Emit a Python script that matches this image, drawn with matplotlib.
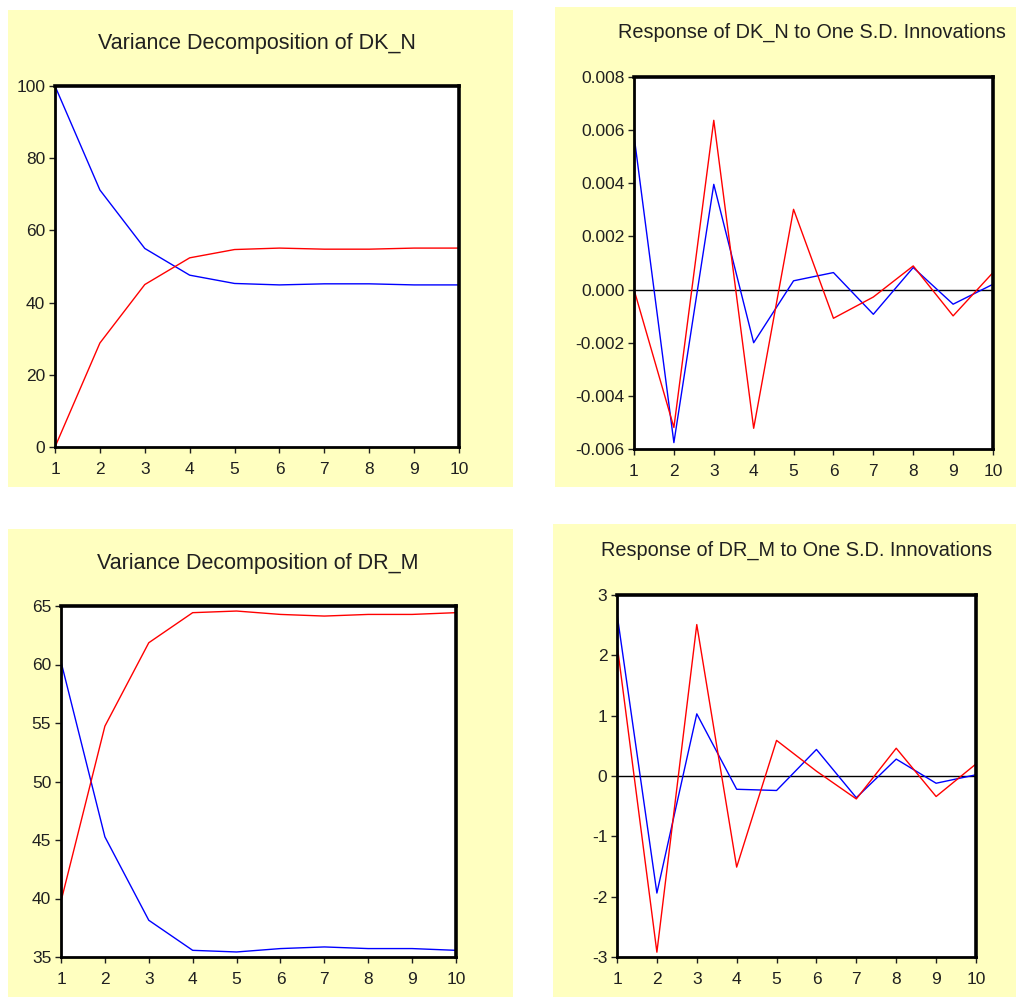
import matplotlib
matplotlib.use('Agg')
import matplotlib.pyplot as plt
from matplotlib.patches import Rectangle

plt.rcParams['font.family'] = ['Liberation Sans', 'DejaVu Sans']
plt.rcParams['axes.unicode_minus'] = False

# 期数
periods = [1, 2, 3, 4, 5, 6, 7, 8, 9, 10]

# DK_N 方差分解
vd_dk_blue = [100.0, 71.2, 55.0, 47.6, 45.3, 44.9, 45.2, 45.2, 44.9, 44.9]
vd_dk_red = [0.0, 28.8, 45.0, 52.4, 54.7, 55.1, 54.8, 54.8, 55.1, 55.1]

# DK_N 脉冲响应
ir_dk_blue = [0.00580, -0.00576, 0.00396, -0.00200, 0.00033, 0.00064, -0.00093, 0.00083, -0.00055, 0.00020]
ir_dk_red = [0.0, -0.00519, 0.00637, -0.00522, 0.00302, -0.00108, -0.00028, 0.00089, -0.00099, 0.00064]

# DR_M 方差分解
vd_dr_blue = [60.24, 45.27, 38.14, 35.57, 35.43, 35.72, 35.86, 35.72, 35.72, 35.57]
vd_dr_red = [39.76, 54.73, 61.86, 64.43, 64.57, 64.28, 64.14, 64.28, 64.28, 64.43]

# DR_M 脉冲响应
ir_dr_blue = [2.69, -1.94, 1.03, -0.22, -0.24, 0.44, -0.36, 0.28, -0.12, 0.02]
ir_dr_red = [2.19, -2.92, 2.51, -1.51, 0.59, 0.08, -0.38, 0.46, -0.34, 0.20]

titles = ['Variance Decomposition of DK_N',
          'Response of DK_N to One S.D. Innovations',
          'Variance Decomposition of DR_M',
          'Response of DR_M to One S.D. Innovations']

W, H = 1016, 998
fig = plt.figure(figsize=(W / 100, H / 100), dpi=100)
fig.patch.set_facecolor('white')

yellow = '#FFFFC0'


def px_rect(x0, y0, x1, y1):
    # 像素坐标 -> 图形坐标
    return [x0 / W, 1 - y1 / H, (x1 - x0) / W, (y1 - y0) / H]


# 黄色背景板
for (x0, y0, x1, y1) in [(8, 10, 513, 487), (555, 7, 1016, 487),
                         (8, 529, 513, 997), (553, 524, 1016, 997)]:
    l, b, w, h = px_rect(x0, y0, x1, y1)
    fig.add_artist(Rectangle((l, b), w, h, transform=fig.transFigure,
                             facecolor=yellow, edgecolor='none', zorder=0))

# 标题位置和字号
title_pos = [(257, 43), (812, 32), (258, 563), (797, 550)]
title_size = [15.5, 14.3, 15.5, 14.3]
for t, (tx, ty), fs in zip(titles, title_pos, title_size):
    fig.text(tx / W, 1 - ty / H, t, ha='center', va='center',
             fontsize=fs, color='#202020')


def make_axes(x0, y0, x1, y1):
    ax = fig.add_axes(px_rect(x0, y0, x1, y1))
    ax.set_facecolor('white')
    for name, s in ax.spines.items():
        s.set_linewidth(2.6 if name in ('top', 'right') else 2.0)
        s.set_color('black')
    ax.tick_params(direction='out', length=4, width=1, labelsize=12.5,
                   colors='#202020', pad=3)
    ax.tick_params(axis='x', pad=7)
    ax.set_xlim(1, 10)
    ax.set_xticks(periods)
    return ax


# 左上
ax1 = make_axes(55, 86, 459, 447)
ax1.plot(periods, vd_dk_blue, color='blue', lw=1)
ax1.plot(periods, vd_dk_red, color='red', lw=1)
ax1.set_ylim(0, 100)
ax1.set_yticks([0, 20, 40, 60, 80, 100])

# 右上
ax2 = make_axes(634, 77, 993, 449)
ax2.axhline(0, color='black', lw=1)
ax2.plot(periods, ir_dk_blue, color='blue', lw=1)
ax2.plot(periods, ir_dk_red, color='red', lw=1)
ax2.set_ylim(-0.006, 0.008)
ax2.set_yticks([-0.006, -0.004, -0.002, 0.0, 0.002, 0.004, 0.006, 0.008])
ax2.set_yticklabels(['-0.006', '-0.004', '-0.002', '0.000', '0.002', '0.004', '0.006', '0.008'])

# 左下
ax3 = make_axes(61, 606, 456, 957)
ax3.plot(periods, vd_dr_blue, color='blue', lw=1)
ax3.plot(periods, vd_dr_red, color='red', lw=1)
ax3.set_ylim(35, 65)
ax3.set_yticks([35, 40, 45, 50, 55, 60, 65])

# 右下
ax4 = make_axes(617, 595, 976, 957)
ax4.axhline(0, color='black', lw=1)
ax4.plot(periods, ir_dr_blue, color='blue', lw=1)
ax4.plot(periods, ir_dr_red, color='red', lw=1)
ax4.set_ylim(-3, 3)
ax4.set_yticks([-3, -2, -1, 0, 1, 2, 3])

fig.savefig('out.png', dpi=100, facecolor='white')
